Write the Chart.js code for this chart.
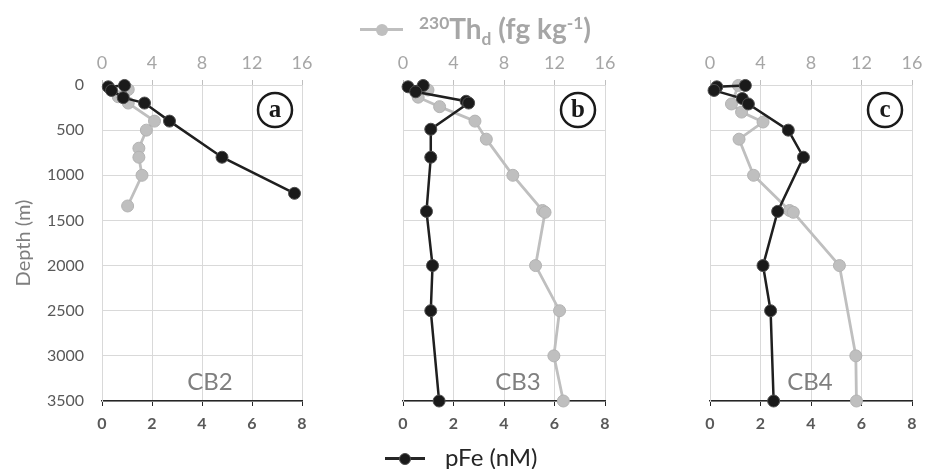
<!DOCTYPE html>
<html>
<head>
<meta charset="utf-8">
<script src="https://cdn.jsdelivr.net/npm/chart.js@4.4.1/dist/chart.umd.min.js"></script>
<style>
  body { margin: 0; background: #fff; }
  #wrap { position: relative; width: 929px; height: 469px; overflow: hidden; font-family: Lato, sans-serif; }
  #wrap canvas { position: absolute; top: 0; }
  .legline { position: absolute; height: 3px; }
  .legdot { position: absolute; width: 12px; height: 12px; border-radius: 50%; }
  .legtxt { position: absolute; white-space: nowrap; line-height: 1; }
  .legtxt sup, .legtxt sub { font-size: 62%; }
  .legtxt sup { vertical-align: 0.6em; }
  .legtxt sub { vertical-align: -0.3em; }
</style>
</head>
<body>
<div id="wrap">
  <canvas id="panelA" width="314" height="469" style="left:0px"></canvas>
  <canvas id="panelB" width="226" height="469" style="left:391px"></canvas>
  <canvas id="panelC" width="226" height="469" style="left:698px"></canvas>

  <!-- top legend: 230Th -->
  <div class="legline" style="left:360px;top:28px;width:43px;background:#bfbfbf"></div>
  <div class="legdot" style="left:376px;top:23.5px;background:#bfbfbf"></div>
  <div class="legtxt" style="left:419px;top:14px;font-weight:bold;font-size:28px;color:#a6a6a6"><sup>230</sup>Th<sub>d</sub> (fg kg<sup>-1</sup>)</div>

  <!-- bottom legend: pFe -->
  <div class="legline" style="left:385px;top:457px;width:40px;background:#262626"></div>
  <div class="legdot" style="left:399px;top:452.5px;background:#1a1a1a;box-sizing:border-box;border:1px solid #4d4d4d"></div>
  <div class="legtxt" style="left:445px;top:445px;font-size:24px;color:#262626">pFe (nM)</div>
</div>

<script>
// station / panel names
const stations = ['CB2', 'CB3', 'CB4'];
const panelLetters = ['a', 'b', 'c'];

// tick labels
const depthTicks = [0, 500, 1000, 1500, 2000, 2500, 3000, 3500];
const pFeTicks = [0, 2, 4, 6, 8];
const thTicks = [0, 4, 8, 12, 16];

// pFe (nM) profiles, depth in m
const pFeDepthCB2 = [5, 20, 60, 140, 200, 400, 800, 1200];
const pFeCB2      = [0.9, 0.25, 0.38, 0.85, 1.7, 2.7, 4.8, 7.7];
const pFeDepthCB3 = [5, 20, 75, 180, 200, 490, 800, 1400, 2000, 2500, 3500];
const pFeCB3      = [0.8, 0.2, 0.5, 2.5, 2.6, 1.1, 1.1, 0.93, 1.17, 1.1, 1.43];
const pFeDepthCB4 = [5, 20, 60, 150, 210, 500, 800, 1400, 2000, 2500, 3500];
const pFeCB4      = [1.4, 0.27, 0.16, 1.28, 1.52, 3.1, 3.7, 2.68, 2.1, 2.4, 2.52];

// dissolved 230Th (fg/kg) profiles
const thDepthCB2 = [50, 130, 200, 400, 500, 700, 800, 1000, 1340];
const thCB2      = [2.1, 1.3, 2.1, 4.2, 3.55, 2.95, 2.95, 3.2, 2.05];
const thDepthCB3 = [55, 135, 240, 400, 600, 1000, 1390, 1410, 2000, 2500, 3000, 3500];
const thCB3      = [1.98, 1.2, 2.9, 5.7, 6.6, 8.7, 11.05, 11.25, 10.5, 12.4, 11.95, 12.7];
const thDepthCB4 = [5, 210, 300, 410, 600, 1000, 1390, 1410, 2000, 3000, 3500];
const thCB4      = [2.25, 1.7, 2.5, 4.2, 2.3, 3.45, 6.3, 6.6, 10.25, 11.55, 11.6];

const ink = '#1f1f1f';
const thGrey = '#bfbfbf';
const gridGrey = '#d9d9d9';

function pts(depths, vals) {
  return depths.map((d, i) => ({ x: vals[i], y: d }));
}

// no automatic side padding for edge tick labels, so the plot areas line up
function noSidePad(s) {
  s.paddingLeft = 0;
  s.paddingRight = 0;
}

const panelMarks = {
  id: 'panelMarks',
  afterDraw(chart, args, opts) {
    const { ctx, chartArea: a } = chart;
    ctx.save();
    // circled letter
    const cx = a.right - 27, cy = a.top + 25;
    ctx.beginPath();
    ctx.arc(cx, cy, 17, 0, Math.PI * 2);
    ctx.lineWidth = 2.5;
    ctx.strokeStyle = '#1a1a1a';
    ctx.stroke();
    ctx.fillStyle = '#1a1a1a';
    ctx.font = 'bold 25px "Liberation Serif", "DejaVu Serif", serif';
    ctx.textAlign = 'center';
    ctx.textBaseline = 'alphabetic';
    ctx.fillText(opts.letter, cx, cy + 7);
    // station name
    ctx.fillStyle = '#7f7f7f';
    ctx.font = '24px Lato, sans-serif';
    ctx.textBaseline = 'middle';
    ctx.fillText(opts.station, a.left + opts.labelX, a.bottom - 19);
    ctx.restore();
  }
};

function makePanel(id, idx, pFeDepth, pFe, thDepth, th, yWidth, labelX) {
  const first = idx === 0;
  return new Chart(document.getElementById(id), {
    type: 'scatter',
    data: {
      datasets: [
        {
          label: 'pFe (nM)',
          data: pts(pFeDepth, pFe),
          xAxisID: 'x',
          showLine: true,
          borderColor: ink,
          borderWidth: 2.5,
          pointRadius: 6,
          pointBackgroundColor: '#1a1a1a',
          pointBorderColor: '#4d4d4d',
          pointBorderWidth: 1,
          clip: false
        },
        {
          label: '230Th',
          data: pts(thDepth, th),
          xAxisID: 'x2',
          showLine: true,
          borderColor: thGrey,
          borderWidth: 2.8,
          pointRadius: 6,
          pointBackgroundColor: thGrey,
          pointBorderColor: '#b3b3b3',
          pointBorderWidth: 1,
          clip: false
        }
      ]
    },
    options: {
      responsive: false,
      animation: false,
      layout: { padding: { right: 12, top: 0, bottom: 0, left: 0 } },
      plugins: {
        legend: { display: false },
        tooltip: { enabled: false },
        panelMarks: { letter: panelLetters[idx], station: stations[idx], labelX: labelX }
      },
      scales: {
        x: {
          position: 'bottom',
          min: 0, max: 8,
          afterBuildTicks: s => { s.ticks = pFeTicks.map(v => ({ value: v })); },
          afterFit: s => { s.height = 68; noSidePad(s); },
          grid: { color: gridGrey, tickColor: '#262626', tickLength: 5 },
          border: { color: '#262626', width: 1.5 },
          ticks: { color: '#595959', padding: 8, maxRotation: 0, callback: v => String(v),
                   font: { family: 'Lato, sans-serif', size: 16, weight: 'bold' } }
        },
        x2: {
          position: 'top',
          min: 0, max: 16,
          afterBuildTicks: s => { s.ticks = thTicks.map(v => ({ value: v })); },
          afterFit: s => { s.height = 85; noSidePad(s); },
          grid: { drawOnChartArea: false, tickColor: thGrey, tickLength: 5 },
          border: { display: false },
          ticks: { color: '#a6a6a6', padding: 6, maxRotation: 0, callback: v => String(v),
                   font: { family: 'Lato, sans-serif', size: 18 } }
        },
        y: {
          reverse: true,
          min: 0, max: 3500,
          afterBuildTicks: s => { s.ticks = depthTicks.map(v => ({ value: v })); },
          afterFit: s => { s.width = yWidth; },
          grid: { color: gridGrey, drawTicks: false },
          border: { color: gridGrey },
          ticks: { display: first, color: '#595959', padding: 18, callback: v => String(v),
                   font: { family: 'Lato, sans-serif', size: 16 } },
          title: { display: first, text: 'Depth (m)', color: '#7f7f7f',
                   font: { family: 'Lato, sans-serif', size: 20 }, padding: { top: 12, bottom: 4 } }
        }
      }
    },
    plugins: [panelMarks]
  });
}

makePanel('panelA', 0, pFeDepthCB2, pFeCB2, thDepthCB2, thCB2, 102, 108);
makePanel('panelB', 1, pFeDepthCB3, pFeCB3, thDepthCB3, thCB3, 12, 115);
makePanel('panelC', 2, pFeDepthCB4, pFeCB4, thDepthCB4, thCB4, 12, 100);
</script>
</body>
</html>
